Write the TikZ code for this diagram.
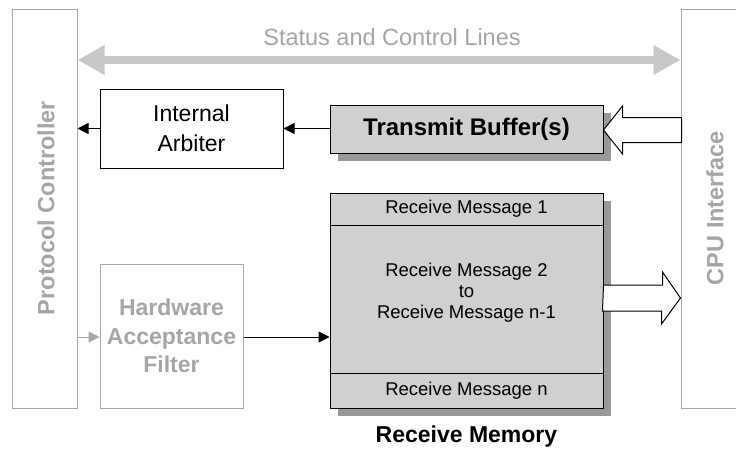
\documentclass[tikz,border=0pt]{standalone}
\usepackage{fontspec}
\setmainfont{Liberation Sans}
\usetikzlibrary{arrows.meta,shadows}
\definecolor{barc}{HTML}{C8C8C8}
\definecolor{txtgray}{HTML}{A6A6A6}
\definecolor{boxgray}{HTML}{A8A8A8}
\definecolor{fillgray}{HTML}{D0D0D0}
\definecolor{shadgray}{HTML}{999999}
\tikzset{
  sidebox/.style={draw=boxgray, line width=1pt, fill=white, inner sep=0pt},
  blackbox/.style={draw=black, line width=1pt, fill=white, inner sep=0pt},
  graybox/.style={draw=black, line width=1pt, fill=fillgray, inner sep=0pt,
    drop shadow={shadow xshift=8pt, shadow yshift=-8pt, opacity=1, fill=shadgray}},
  arr/.style={line width=1pt, -{Triangle[length=11pt,width=11pt]}},
  hollow/.style={draw=black, line width=1pt, fill=white, line join=miter},
  sidelabel/.style={rotate=90, text=txtgray, font=\fontsize{23.5}{27}\selectfont\bfseries},
}
\begin{document}
\begin{tikzpicture}[x=1pt,y=-1pt]
\clip (0,0) rectangle (736,453);
\fill[white] (0,0) rectangle (736,453);

% side blocks
\node[sidebox, minimum width=65pt, minimum height=399pt] (pc) at (44.5,208.5) {};
\node[sidelabel] (pctext) at (46,208) {Protocol Controller};
\node[sidebox, minimum width=80pt, minimum height=399pt] (cpu) at (721,208.5) {};
\node[sidelabel] (cputext) at (715,208) {CPU Interface};

% status and control lines
\coordinate (s1) at (pc.east |- 0,60);
\draw[barc, line width=8pt, {Triangle[length=27pt,width=28pt]}-{Triangle[length=27pt,width=28pt]}]
  (s1) -- (s1 -| cpu.west);
\node[text=txtgray, font=\fontsize{23.5}{27}\selectfont] (status) at (392,37) {Status and Control Lines};

% internal arbiter
\node[blackbox, minimum width=183pt, minimum height=79pt, align=center,
  font=\fontsize{23}{30}\selectfont] (arb) at (191.5,128.5) {Internal\\Arbiter};

% transmit buffer
\node[graybox, minimum width=273pt, minimum height=48pt,
  font=\fontsize{24}{28}\selectfont\bfseries] (tb) at (466.5,129) {Transmit Buffer(s)};

% receive memory
\node[graybox, minimum width=273pt, minimum height=215pt] (rm) at (466.5,300.5) {};
\coordinate (d1) at (rm.west |- 0,225);
\coordinate (d2) at (rm.west |- 0,373);
\draw[line width=1pt] (d1) -- (d1 -| rm.east);
\draw[line width=1pt] (d2) -- (d2 -| rm.east);
\node[font=\fontsize{18.5}{20.5}\selectfont] (m1) at (466.5,209) {Receive Message 1};
\node[align=center, font=\fontsize{18.5}{21}\selectfont] (m2) at (466.5,293) {Receive Message 2\\to\\Receive Message n-1};
\node[font=\fontsize{18.5}{20.5}\selectfont] (mn) at (466.5,391) {Receive Message n};
\node[font=\fontsize{23}{26}\selectfont\bfseries] (rmlabel) at (466.5,437) {Receive Memory};

% hardware acceptance filter
\node[sidebox, minimum width=143pt, minimum height=144pt, align=center, text=txtgray,
  font=\fontsize{23}{28.5}\selectfont\bfseries] (haf) at (171.5,336) {Hardware\\Acceptance\\Filter};

% connectors
\draw[arr] (arb.west) -- (arb.west -| pc.east);
\draw[arr] (tb.west |- arb.east) -- (arb.east);
\coordinate (h1) at (pc.east |- 0,337);
\draw[arr, draw=boxgray, fill=boxgray] (h1) -- (h1 -| haf.west);
\draw[arr] (haf.east |- h1) -- (h1 -| rm.west);

% hollow arrow CPU -> transmit buffer
\coordinate (t1) at ([yshift=-1pt]tb.east);
\draw[hollow] (t1) -- ++(19,-24) -- ++(0,11.5) -- ++(59,0) -- ++(0,25)
  -- ++(-59,0) -- ++(0,11.5) -- cycle;

% hollow arrow receive memory -> CPU
\coordinate (r0) at ([yshift=2.5pt]rm.east);
\draw[hollow] ([yshift=13pt]r0) -- ++(59,0) -- ++(0,-13) -- (r0 -| cpu.west) -- ++(-19,26) -- ++(0,-13) -- ++(-59,0) -- cycle;
\end{tikzpicture}
\end{document}
